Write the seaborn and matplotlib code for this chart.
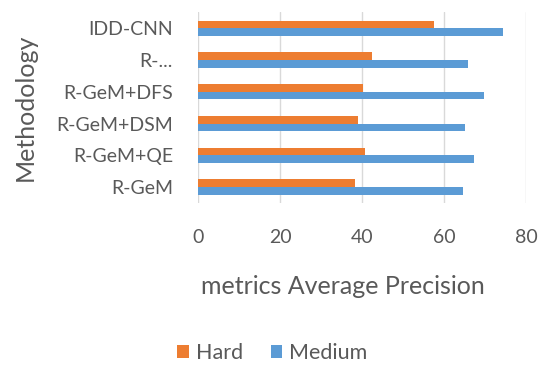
import pandas as pd
import seaborn as sns
import matplotlib.pyplot as plt

# values
methods = ["IDD-CNN", "R-...", "R-GeM+DFS", "R-GeM+DSM", "R-GeM+QE", "R-GeM"]
hard = [57.6, 42.5, 40.3, 39.1, 40.8, 38.3]
medium = [74.3, 65.9, 69.7, 65.0, 67.2, 64.7]
series = ["Hard", "Medium"]
x_ticks = [0, 20, 40, 60, 80]

sns.set_theme(style="white")
plt.rcParams["font.family"] = ["Lato", "DejaVu Sans"]
grey = "#595959"

df = pd.DataFrame({
    "Methodology": methods * 2,
    "value": hard + medium,
    "series": ["Hard"] * len(methods) + ["Medium"] * len(methods),
})

fig = plt.figure(figsize=(5.38, 3.65), dpi=100)
ax = fig.add_axes([0.368, 0.444, 0.61, 0.522])
sns.barplot(data=df, y="Methodology", x="value", hue="series",
            hue_order=series, order=methods, orient="h",
            palette=["#ED7D31", "#5B9BD5"], saturation=1, width=0.48,
            linewidth=0, ax=ax)

ax.set_xlim(0, 80)
ax.set_xticks(x_ticks)
ax.grid(axis="x", color="#D9D9D9", linewidth=1)
ax.set_axisbelow(True)
for s in ax.spines.values():
    s.set_visible(False)
ax.tick_params(axis="x", length=0, pad=19, labelsize=14, labelcolor=grey)
ax.tick_params(axis="y", length=0, pad=18, labelsize=14, labelcolor=grey)
ax.set_xlabel("metrics Average Precision", fontsize=18, color=grey)
ax.xaxis.set_label_coords(0.44, -0.38)
ax.set_ylabel("Methodology", fontsize=18, color=grey)
ax.yaxis.set_label_coords(-0.49, 0.5)

handles, labels = ax.get_legend_handles_labels()
ax.legend(handles, labels, loc="center", bbox_to_anchor=(0.506, 0.033),
          bbox_transform=fig.transFigure, ncol=2, frameon=False,
          fontsize=15.5, labelcolor=grey, handlelength=0.55,
          handleheight=0.55, handletextpad=0.3, columnspacing=1.3)

fig.savefig("out.png", dpi=100)
